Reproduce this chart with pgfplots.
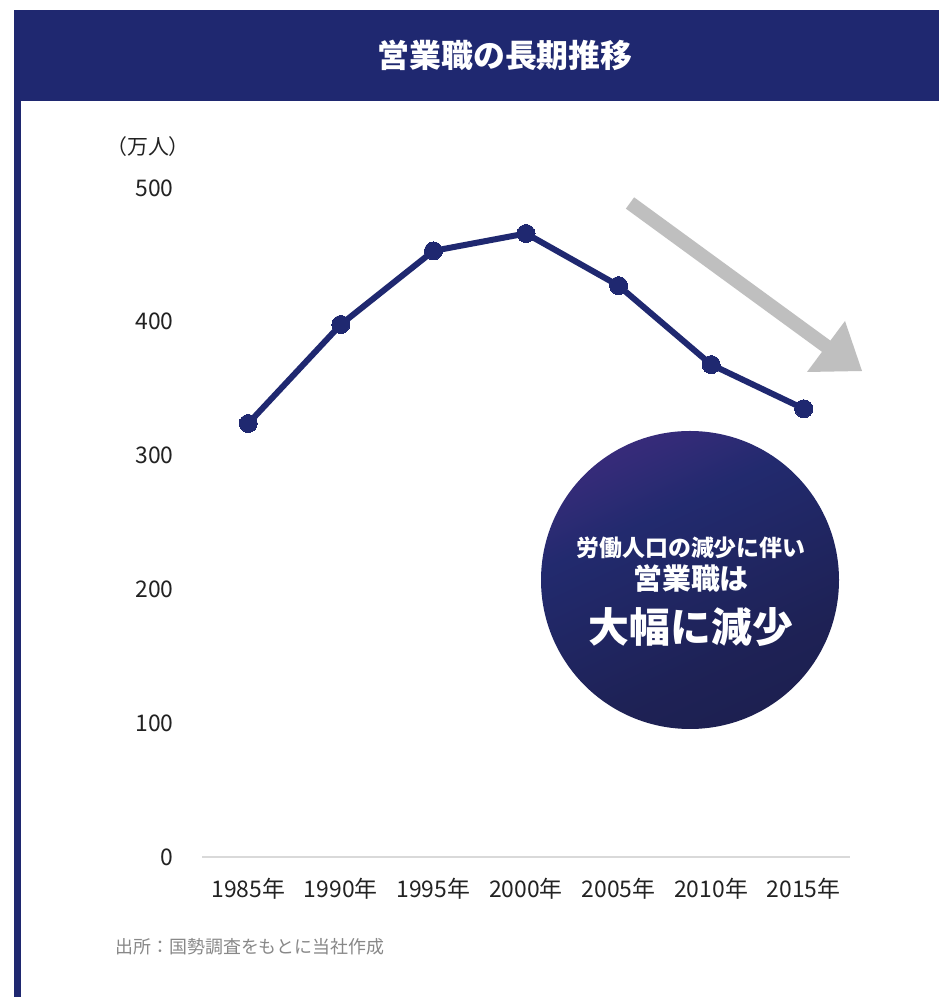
\documentclass[border=0pt]{standalone}
\usepackage{pgfplots}
\pgfplotsset{compat=1.18}
\usepackage{fontspec}
\setmainfont{Noto Sans CJK JP}
\definecolor{navy}{HTML}{1F2870}
\definecolor{axisgray}{HTML}{D9D9D9}
\definecolor{arrowgray}{HTML}{BFBFBF}
\definecolor{txt}{HTML}{222222}
\definecolor{srcgray}{HTML}{888888}
\definecolor{cpurple}{HTML}{5A2E8E}
\definecolor{cnavy}{HTML}{222A6E}
\definecolor{cdark}{HTML}{1B1C45}
\pgfdeclareverticalshading{circshade}{100bp}{color(0bp)=(cdark); color(35bp)=(cdark!60!cnavy); color(62bp)=(cnavy); color(72bp)=(cnavy!70!cpurple); color(100bp)=(cpurple)}
\pgfplotstableread{
x y
0 324
1 398
2 453
3 466
4 427
5 368
6 335
}\datatable
\begin{document}
\begin{tikzpicture}[x=1bp,y=1bp]
\path[use as bounding box] (0,0) rectangle (939,997);
\fill[white] (0,0) rectangle (939,997);
% title bar and left stripe
\fill[navy] (14,896) rectangle (939,987);
\fill[navy] (14,0) rectangle (21,896);
\node[text=white, font=\bfseries\fontsize{32}{36}\selectfont] at (505,942) {営業職の長期推移};
% unit label
\node[text=txt, font=\fontsize{21}{25}\selectfont] at (148,850) {（万人）};
% decreasing arrow
\draw[arrowgray, line width=14bp] (630,794) -- (830,648);
\fill[arrowgray] (807,625) -- (862,626) -- (845,676) -- cycle;
\begin{axis}[
  at={(202bp,140bp)}, anchor=south west,
  scale only axis, width=648bp, height=669bp,
  xmin=-0.5, xmax=6.5, ymin=0, ymax=500,
  clip=false,
  axis line style={draw=none},
  major tick length=0pt,
  tick style={draw=none},
  xtick={0,1,2,3,4,5,6},
  xticklabels={1985年,1990年,1995年,2000年,2005年,2010年,2015年},
  ytick={0,100,200,300,400,500},
  /pgf/number format/assume math mode=true,
  ticklabel style={text=txt, font=\fontsize{23}{27}\selectfont},
  yticklabel style={xshift=-25bp},
  xticklabel style={yshift=-18bp},
]
\draw[axisgray, line width=2bp] (axis cs:-0.5,0) -- (axis cs:6.5,0);
\addplot[navy, line width=6bp, mark=*, mark size=9bp, mark options={fill=navy, draw=navy, line width=0pt}] table[x=x,y=y] {\datatable};
\end{axis}
% circle with gradient
\shade[shading=circshade, shading angle=25] (690,417) circle (149);
\node[text=white, font=\bfseries\fontsize{23}{27}\selectfont] at (691,449) {労働人口の減少に伴い};
\node[text=white, font=\bfseries\fontsize{29}{33}\selectfont] at (691,419) {営業職は};
\node[text=white, font=\bfseries\fontsize{41}{46}\selectfont] at (691,370) {大幅に減少};
% source
\node[anchor=west, text=srcgray, font=\fontsize{18}{22}\selectfont] at (112,50) {出所：国勢調査をもとに当社作成};
\end{tikzpicture}
\end{document}
